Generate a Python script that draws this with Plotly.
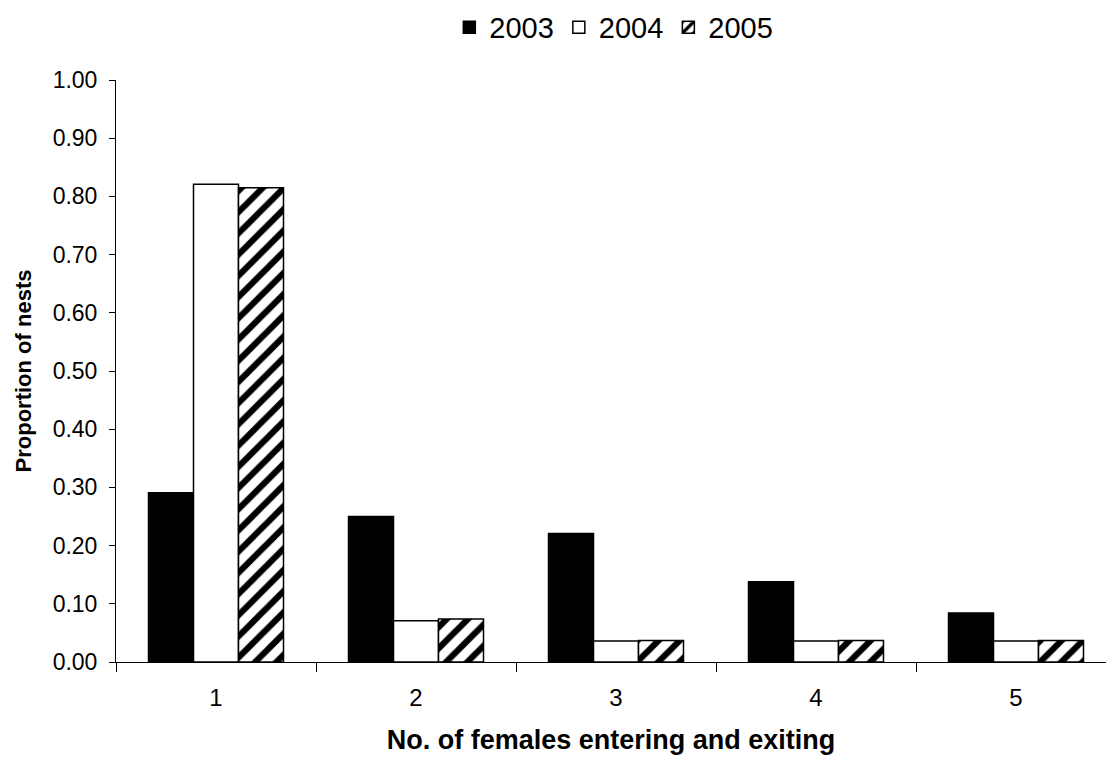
import plotly.graph_objects as go

# Number of females entering and exiting a nest
categories = ["1", "2", "3", "4", "5"]

# Proportion of nests per year
prop_2003 = [0.291, 0.250, 0.221, 0.138, 0.084]
prop_2004 = [0.821, 0.071, 0.036, 0.036, 0.036]
prop_2005 = [0.815, 0.074, 0.037, 0.037, 0.037]

years = ["2003", "2004", "2005"]

FONT = "Liberation Sans, Arial, sans-serif"
line = dict(color="black", width=1.5)

fig = go.Figure()
fig.add_trace(go.Bar(
    x=categories, y=prop_2003, name=years[0],
    marker=dict(color="black", line=line),
))
fig.add_trace(go.Bar(
    x=categories, y=prop_2004, name=years[1],
    marker=dict(color="white", line=line),
))
fig.add_trace(go.Bar(
    x=categories, y=prop_2005, name=years[2],
    marker=dict(
        color="white", line=line,
        pattern=dict(shape="/", fgcolor="black", bgcolor="white",
                     fgopacity=1, size=15, solidity=0.42, fillmode="overlay"),
    ),
))

fig.update_layout(
    width=1106, height=758,
    paper_bgcolor="white", plot_bgcolor="white",
    margin=dict(l=116, r=0, t=80, b=96, autoexpand=False),
    barmode="group", bargap=0.325, bargroupgap=0,
    font=dict(family=FONT, color="black", size=24),
    showlegend=True,
    legend=dict(
        orientation="h", x=0.555, xref="container", xanchor="center",
        y=0.964, yref="container", yanchor="middle",
        font=dict(size=29, family=FONT), itemwidth=30,
        traceorder="normal", bgcolor="rgba(0,0,0,0)",
    ),
    xaxis=dict(
        type="category", range=[-0.5, 4.45],
        tickson="boundaries", ticks="outside", ticklen=9, tickcolor="black",
        tickwidth=1, showline=True, linecolor="black", linewidth=1,
        showgrid=False, zeroline=False, ticklabelstandoff=14,
        tickfont=dict(size=24, family=FONT),
        title=dict(text="<b>No. of females entering and exiting</b>",
                   font=dict(size=27, family=FONT), standoff=20),
    ),
    yaxis=dict(
        range=[0, 1.0], tickvals=[i / 10 for i in range(11)],
        tickformat=".2f", ticks="outside", ticklen=6, tickcolor="black",
        showline=True, linecolor="black", linewidth=1,
        showgrid=False, zeroline=False, ticklabelstandoff=7,
        tickfont=dict(size=23, family=FONT),
        title=dict(text="<b>Proportion of nests</b>",
                   font=dict(size=22, family=FONT), standoff=14),
    ),
)

fig.write_html("out.html")
